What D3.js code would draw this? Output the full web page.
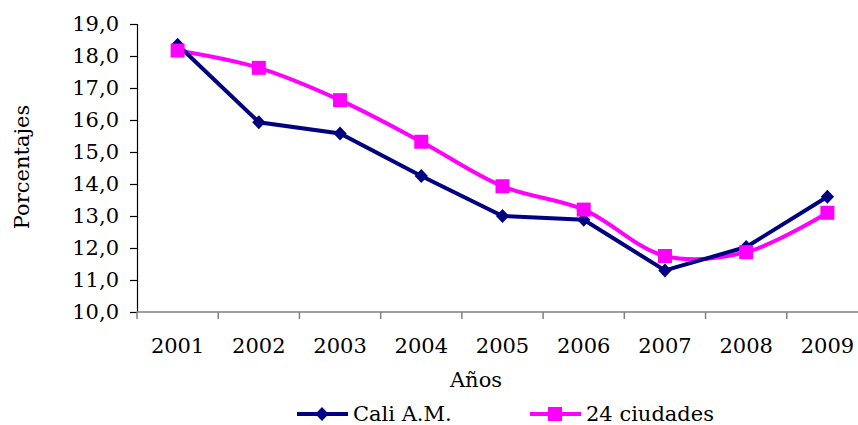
<!DOCTYPE html>
<html><head><meta charset="utf-8">
<script src="https://cdn.jsdelivr.net/npm/d3@7"></script>
<style>body{margin:0;background:#fff}svg{display:block}text{font-family:"DejaVu Serif",serif;fill:#000}</style>
</head><body><svg id="c" width="858" height="425"></svg>
<script>
const years = ["2001","2002","2003","2004","2005","2006","2007","2008","2009"];
const cali = [18.35,15.93,15.58,14.25,13.0,12.88,11.3,12.03,13.6];
const ciudades = [18.17,17.63,16.62,15.32,13.93,13.2,11.75,11.87,13.1];
const yTicks = [10,11,12,13,14,15,16,17,18,19];
const seriesNames = ["Cali A.M.","24 ciudades"];

const svg = d3.select("#c");
const x = d3.scaleBand().domain(years).range([137, 868]);
const y = d3.scaleLinear().domain([10,19]).range([312, 24]);
const cx = d => x(d) + x.bandwidth()/2;
const fmt = v => d3.format(".1f")(v).replace(".", ",");
const FS = "21px";

// Y axis
const ya = svg.append("g").attr("transform","translate(137,0)")
  .call(d3.axisLeft(y).tickValues(yTicks).tickFormat(fmt).tickSize(7).tickPadding(11));
ya.select(".domain").attr("stroke","#000").attr("stroke-width",1.2);
ya.selectAll(".tick line").attr("stroke","#000").attr("stroke-width",1.2);
ya.selectAll(".tick text").style("font-size",FS).attr("fill","#000");

// X axis
const xa = svg.append("g").attr("transform","translate(0,312)");
xa.append("line").attr("x1",137).attr("x2",868).attr("y1",0).attr("y2",0).attr("stroke","#808080").attr("stroke-width",1.5);
const bounds = years.map(d => x(d)).concat([x(years[years.length-1]) + x.bandwidth()]);
xa.selectAll("line.t").data(bounds).enter().append("line").attr("class","t")
  .attr("x1",d=>d).attr("x2",d=>d).attr("y1",0).attr("y2",7).attr("stroke","#808080").attr("stroke-width",1.5);
xa.selectAll("text").data(years).enter().append("text")
  .attr("x",d=>cx(d)).attr("y",34).attr("dy","0.35em").attr("text-anchor","middle")
  .style("font-size",FS).text(d=>d);

// Axis titles
svg.append("text").attr("transform","translate(22,167) rotate(-90)").attr("text-anchor","middle")
  .attr("dy","0.35em").style("font-size",FS).text("Porcentajes");
svg.append("text").attr("x",476).attr("y",380).attr("dy","0.35em").attr("text-anchor","middle")
  .style("font-size",FS).text("Años");

// Lines
const lineStraight = d3.line().x((d,i)=>cx(years[i])).y(d=>y(d));
const lineSmooth = d3.line().x((d,i)=>cx(years[i])).y(d=>y(d)).curve(d3.curveCatmullRom.alpha(0.5));

svg.append("path").datum(ciudades).attr("d",lineSmooth).attr("fill","none")
  .attr("stroke","#ff00ff").attr("stroke-width",4);
svg.append("path").datum(cali).attr("d",lineStraight).attr("fill","none")
  .attr("stroke","#000080").attr("stroke-width",4);

const diamond = (g, px, py, s) => g.append("path")
  .attr("d",`M${px},${py-s}L${px+s*0.95},${py}L${px},${py+s}L${px-s*0.95},${py}Z`).attr("fill","#000080");
const square = (g, px, py, s) => g.append("rect")
  .attr("x",px-s/2).attr("y",py-s/2).attr("width",s).attr("height",s).attr("fill","#ff00ff");

cali.forEach((v,i)=>diamond(svg, cx(years[i]), y(v), 7));
ciudades.forEach((v,i)=>square(svg, cx(years[i]), y(v), 14));

// Legend
const lg = svg.append("g");
lg.append("line").attr("x1",297).attr("x2",348).attr("y1",414).attr("y2",414).attr("stroke","#000080").attr("stroke-width",4);
diamond(lg, 322, 414, 7);
lg.append("text").attr("x",353).attr("y",414).attr("dy","0.35em").style("font-size",FS).text(seriesNames[0]);
lg.append("line").attr("x1",530).attr("x2",581).attr("y1",414).attr("y2",414).attr("stroke","#ff00ff").attr("stroke-width",4);
square(lg, 555, 414, 14);
lg.append("text").attr("x",586).attr("y",414).attr("dy","0.35em").style("font-size",FS).text(seriesNames[1]);
</script></body></html>
